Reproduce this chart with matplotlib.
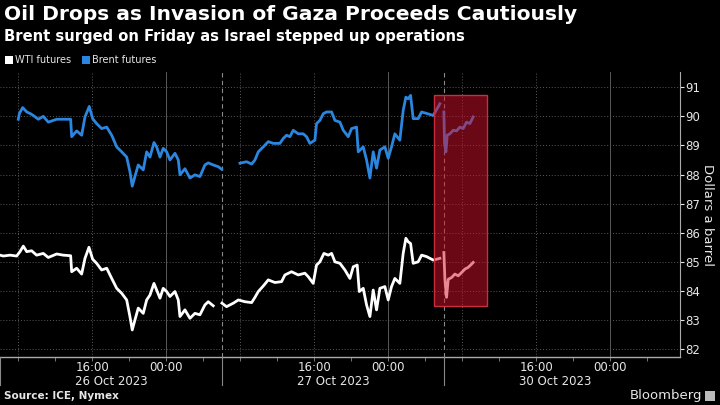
import numpy as np
import matplotlib
matplotlib.use('Agg')
import matplotlib.pyplot as plt
from matplotlib.patches import Rectangle
from matplotlib.lines import Line2D

# hours since 06:00 of each session day, price in dollars
brent_26_t = [1.98, 2.1, 2.45, 2.89, 3.24, 3.6, 4.14, 4.68, 5.22, 6.13, 6.84, 7.64, 7.75, 8.29,
              8.83, 9.19, 9.65, 10.02, 10.45, 10.99, 11.54, 12.08, 12.62, 13.16, 13.7, 14.05,
              14.3, 14.59, 14.95, 15.49, 15.86, 16.22, 16.65, 16.94, 17.3, 17.65, 18.02, 18.38,
              18.92, 19.28, 19.46, 20.0, 20.54, 21.08, 21.62, 22.16, 22.52, 23.06, 23.6, 23.97]
brent_26_p = [89.9, 90.1, 90.3, 90.15, 90.1, 90.03, 89.9, 90.0, 89.8, 89.9, 89.9, 89.9, 89.3, 89.5,
              89.35, 89.98, 90.34, 89.92, 89.75, 89.58, 89.63, 89.35, 88.95, 88.78, 88.6, 88.1,
              87.6, 87.93, 88.33, 88.16, 88.78, 88.6, 89.1, 88.95, 88.6, 88.9, 88.78, 88.5,
              88.73, 88.5, 87.99, 88.2, 87.88, 87.99, 87.93, 88.33, 88.4, 88.33, 88.27, 88.18]

brent_27_t = [1.95, 2.67, 3.21, 3.57, 3.93, 4.47, 5.01, 5.55, 6.27, 6.63, 6.99, 7.35, 7.71, 8.25,
              8.79, 9.15, 9.51, 10.05, 10.23, 10.59, 10.96, 11.32, 11.86, 12.22, 12.76, 13.12,
              13.66, 14.02, 14.56, 14.74, 15.28, 15.64, 16.0, 16.36, 16.72, 17.08, 17.62, 17.98,
              18.34, 18.7, 19.24, 19.6, 19.89, 20.14, 20.4, 20.68, 21.22, 21.59, 22.13, 22.85, 23.57]
brent_27_p = [88.39, 88.44, 88.36, 88.5, 88.78, 88.95, 89.13, 89.07, 89.07, 89.24, 89.35, 89.3,
              89.52, 89.4, 89.4, 89.3, 89.07, 89.18, 89.75, 89.86, 90.09, 90.15, 90.15, 89.86,
              89.8, 89.52, 89.3, 89.58, 89.63, 88.78, 88.95, 88.5, 87.88, 88.78, 88.22, 88.84,
              88.95, 88.56, 88.95, 89.4, 89.18, 90.2, 90.66, 90.6, 90.72, 89.92, 89.92, 90.15,
              90.1, 90.03, 90.43]

brent_30_t = [0.0, 0.07, 0.22, 0.36, 0.65, 1.01, 1.37, 1.73, 2.09, 2.45, 2.81, 3.17]
brent_30_p = [90.15, 89.07, 88.78, 89.35, 89.4, 89.52, 89.5, 89.63, 89.58, 89.8, 89.75, 89.98]

wti_26_t = [0.0, 0.36, 1.08, 1.8, 2.16, 2.52, 2.89, 3.42, 3.96, 4.68, 5.22, 6.13, 6.84, 7.64, 7.75,
            8.29, 8.83, 9.19, 9.62, 10.02, 10.45, 10.99, 11.54, 12.08, 12.62, 13.16, 13.7, 14.05,
            14.3, 14.59, 14.95, 15.49, 15.86, 16.22, 16.65, 16.94, 17.3, 17.65, 18.02, 18.38,
            18.92, 19.28, 19.46, 20.0, 20.54, 21.08, 21.62, 22.16, 22.52, 23.06]
wti_26_p = [85.23, 85.2, 85.23, 85.2, 85.35, 85.54, 85.35, 85.38, 85.23, 85.29, 85.15, 85.27, 85.23,
            85.21, 84.66, 84.78, 84.58, 85.12, 85.5, 85.09, 84.95, 84.72, 84.78, 84.43, 84.09,
            83.92, 83.69, 83.12, 82.66, 83.0, 83.41, 83.23, 83.69, 83.86, 84.26, 84.03, 83.75,
            84.09, 83.98, 83.81, 83.98, 83.69, 83.12, 83.35, 83.06, 83.23, 83.18, 83.52, 83.63, 83.49]

wti_27_t = [0.0, 0.5, 1.23, 1.77, 2.49, 3.21, 3.57, 3.93, 4.47, 5.01, 5.73, 6.45, 6.81, 7.53, 8.25,
            8.97, 9.33, 9.87, 10.23, 10.59, 11.03, 11.5, 11.86, 12.22, 12.76, 13.3, 13.84, 14.2,
            14.63, 14.85, 15.28, 15.64, 16.0, 16.36, 16.72, 17.08, 17.62, 17.98, 18.34, 18.7,
            19.24, 19.6, 19.89, 20.14, 20.4, 20.68, 21.22, 21.59, 22.13, 22.85, 23.57]
wti_27_p = [83.58, 83.46, 83.58, 83.69, 83.63, 83.6, 83.78, 83.98, 84.17, 84.38, 84.29, 84.32, 84.55,
            84.66, 84.55, 84.61, 84.49, 84.26, 84.89, 85.0, 85.29, 85.23, 85.29, 85.0, 84.95,
            84.72, 84.43, 84.83, 84.89, 83.98, 84.09, 83.52, 83.12, 84.03, 83.35, 84.09, 84.15,
            83.69, 84.15, 84.43, 84.26, 85.29, 85.81, 85.69, 85.63, 84.95, 85.0, 85.23, 85.18,
            85.06, 85.12]

wti_30_t = [0.0, 0.11, 0.29, 0.47, 0.83, 1.19, 1.55, 1.91, 2.27, 2.63, 2.99, 3.17]
wti_30_p = [85.32, 84.4, 83.78, 84.4, 84.46, 84.58, 84.52, 84.63, 84.75, 84.81, 84.92, 84.98]

day_labels = ['26 Oct 2023', '27 Oct 2023', '30 Oct 2023']
yticks = [82, 83, 84, 85, 86, 87, 88, 89, 90, 91]
# highlighted window (hours on the compressed axis, dollars)
box_x = (46.92, 52.65)
box_y = (83.47, 90.73)

BLUE = '#2b86e0'
GRID = '#5a5a5a'
TXT = '#e6e6e6'

fig = plt.figure(figsize=(7.2, 4.05), dpi=100, facecolor='black')
ax = fig.add_axes([0.0, 0.1185, 0.944, 0.7035], facecolor='black')

for i, (t, p) in enumerate([(brent_26_t, brent_26_p), (brent_27_t, brent_27_p), (brent_30_t, brent_30_p)]):
    ax.plot(np.array(t) + 24 * i, p, color=BLUE, lw=2, zorder=3)
for i, (t, p) in enumerate([(wti_26_t, wti_26_p), (wti_27_t, wti_27_p), (wti_30_t, wti_30_p)]):
    ax.plot(np.array(t) + 24 * i, p, color='white', lw=2, zorder=3)

ax.add_patch(Rectangle((box_x[0], box_y[0]), box_x[1] - box_x[0], box_y[1] - box_y[0],
                       facecolor='#d4102c', alpha=0.5, edgecolor='none', zorder=4))
ax.add_patch(Rectangle((box_x[0], box_y[0]), box_x[1] - box_x[0], box_y[1] - box_y[0],
                       facecolor='none', edgecolor='#c83040', lw=1, zorder=5))

ax.set_xlim(0, 73.5)
ax.set_ylim(81.73, 91.52)

# grid
for y in yticks:
    ax.axhline(y, color=GRID, lw=0.7, ls=(0, (1, 2)), zorder=1)
for d in range(3):
    for h, style in [(2, (0, (1, 2))), (10, (0, (1, 2))), (18, '-')]:
        ax.axvline(24 * d + h, color=GRID, lw=0.7, ls=style, zorder=1)
for d in (1, 2):
    ax.axvline(24 * d, color='#8a8a8a', lw=0.8, ls=(0, (4, 3)), zorder=1)

for s in ['top', 'left', 'bottom']:
    ax.spines[s].set_visible(False)
ax.spines['right'].set_color('#aaaaaa')
ax.axhline(81.73, color='#aaaaaa', lw=1, zorder=2, clip_on=False)

ax.yaxis.tick_right()
ax.set_yticks(yticks)
ax.tick_params(axis='y', colors=TXT, labelsize=8.5, length=3, width=0.8, pad=1)
ax.yaxis.set_label_position('right')
ax.set_ylabel('Dollars a barrel', color=TXT, fontsize=9.5, rotation=270, labelpad=10)

xt = [24 * d + h for d in range(3) for h in (2, 6, 10, 14, 18, 22)]
ax.set_xticks(xt)
ax.set_xticklabels(['16:00' if (x % 24) == 10 else '00:00' if (x % 24) == 18 else '' for x in xt])
ax.tick_params(axis='x', colors=TXT, labelsize=8.5, length=3, width=0.6, pad=0)
ax.tick_params(axis='x', color='#888888')

for d, lab in enumerate(day_labels):
    ax.text(24 * d + 12, -0.063, lab, transform=ax.get_xaxis_transform(),
            ha='center', va='top', color=TXT, fontsize=8.5)
for d in range(3):
    ax.add_line(Line2D([24 * d, 24 * d], [0, -0.1], transform=ax.get_xaxis_transform(),
                       color='#888888', lw=0.8, clip_on=False))

fig.text(0.006, 0.963, 'Oil Drops as Invasion of Gaza Proceeds Cautiously', color='white',
         fontsize=14.6, fontweight='bold', va='center')
fig.text(0.006, 0.911, 'Brent surged on Friday as Israel stepped up operations', color='white',
         fontsize=10.6, fontweight='bold', va='center')

fig.patches.append(Rectangle((5 / 720, 1 - 64 / 405), 8 / 720, 8 / 405, transform=fig.transFigure,
                             facecolor='white', edgecolor='none'))
fig.text(15 / 720, 1 - 60 / 405, 'WTI futures', color=TXT, fontsize=7, va='center')
fig.patches.append(Rectangle((82 / 720, 1 - 64 / 405), 8 / 720, 8 / 405, transform=fig.transFigure,
                             facecolor=BLUE, edgecolor='none'))
fig.text(92 / 720, 1 - 60 / 405, 'Brent futures', color=TXT, fontsize=7, va='center')

fig.text(0.006, 1 - 396 / 405, 'Source: ICE, Nymex', color=TXT, fontsize=7.5,
         fontweight='bold', va='center')
fig.text(702 / 720, 1 - 396 / 405, 'Bloomberg', color=TXT, fontsize=9.5, ha='right', va='center')
fig.patches.append(Rectangle((705 / 720, 1 - 401 / 405), 10 / 720, 10 / 405, transform=fig.transFigure,
                             facecolor='#bbbbbb', edgecolor='none'))

fig.savefig('out.png', dpi=100, facecolor='black')
